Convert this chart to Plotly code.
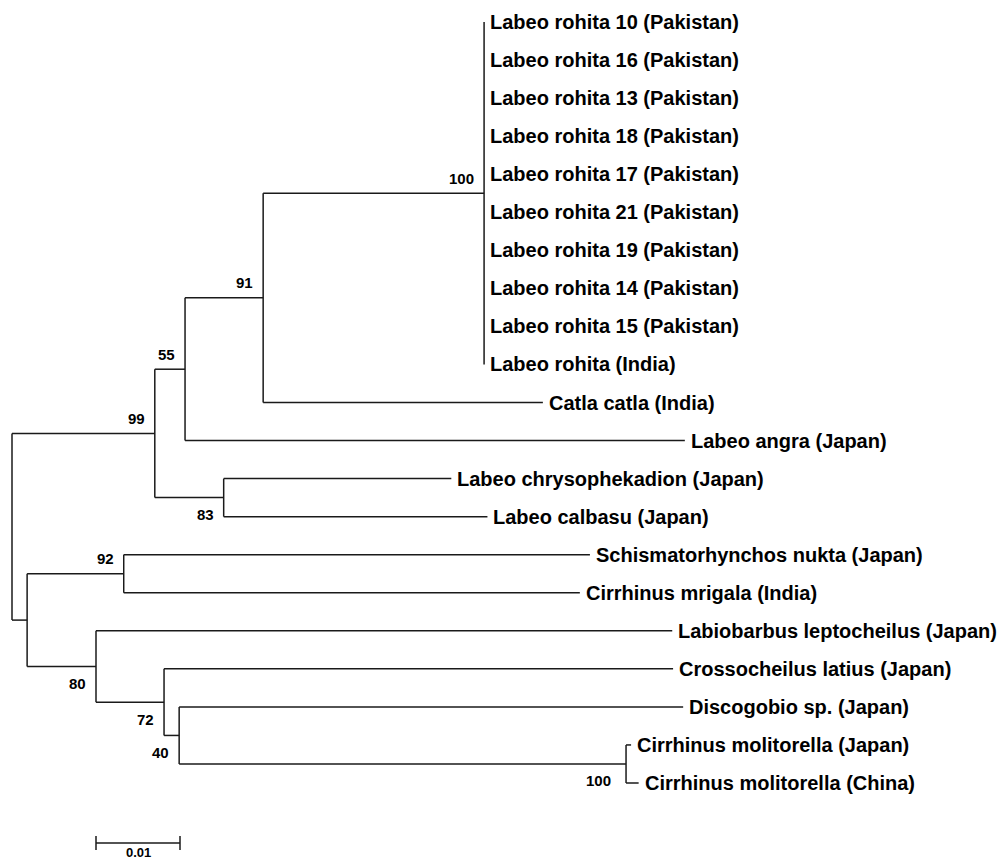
import plotly.graph_objects as go

# ---------------- data ----------------
leaf_names = [
    "Labeo rohita 10 (Pakistan)", "Labeo rohita 16 (Pakistan)", "Labeo rohita 13 (Pakistan)",
    "Labeo rohita 18 (Pakistan)", "Labeo rohita 17 (Pakistan)", "Labeo rohita 21 (Pakistan)",
    "Labeo rohita 19 (Pakistan)", "Labeo rohita 14 (Pakistan)", "Labeo rohita 15 (Pakistan)",
    "Labeo rohita (India)", "Catla catla (India)", "Labeo angra (Japan)",
    "Labeo chrysophekadion (Japan)", "Labeo calbasu (Japan)",
    "Schismatorhynchos nukta (Japan)", "Cirrhinus mrigala (India)",
    "Labiobarbus leptocheilus (Japan)", "Crossocheilus latius (Japan)",
    "Discogobio sp. (Japan)", "Cirrhinus molitorella (Japan)", "Cirrhinus molitorella (China)",
]
leaf_parents = ["n100a"] * 10 + ["n91", "n55", "n83", "n83", "n92", "n92",
                                 "n80", "n72", "n40", "n100b", "n100b"]
leaf_lengths = [0.0] * 10 + [0.0333, 0.0595, 0.0271, 0.0314, 0.0555, 0.0543,
                             0.0686, 0.0606, 0.0600, 0.0006, 0.0015]

node_names = ["root", "n99", "n55", "n91", "n100a", "n83",
              "nlow", "n92", "n80", "n72", "n40", "n100b"]
node_parents = [None, "root", "n99", "n55", "n91", "n99",
                "root", "nlow", "nlow", "n80", "n72", "n40"]
node_lengths = [0.0, 0.0170, 0.0036, 0.0093, 0.0263, 0.0082,
                0.0018, 0.0115, 0.0082, 0.0081, 0.0018, 0.0532]
node_support = [None, 99, 55, 91, 100, 83, None, 92, 80, 72, 40, 100]

scale_value = 0.01
scale_label = "0.01"

# ---------------- style ----------------
support_side = {"n99": "up", "n55": "up", "n91": "up", "n100a": "up", "n92": "up",
                "n83": "down", "n80": "down", "n72": "down", "n40": "down", "n100b": "down"}
LINE = dict(color="#1a1a1a", width=1.5)
FONT_FAM = "Liberation Sans, Arial, sans-serif"
PX_X = 8400.0   # px per unit distance
PX_Y = 38.05    # px per leaf
W, H = 1001, 861

# ---------------- layout computation ----------------
xpos = {}
for n, p, l in zip(node_names, node_parents, node_lengths):
    xpos[n] = 0.0 if p is None else xpos[p] + l

children = {n: [] for n in node_names}
for n, p in zip(node_names, node_parents):
    if p is not None:
        children[p].append(n)
leaf_x, leaf_y = [], []
for i, (p, l) in enumerate(zip(leaf_parents, leaf_lengths)):
    leaf_x.append(xpos[p] + l)
    leaf_y.append(float(i))
    children[p].append(("leaf", i))

ypos = {}


def get_y(item):
    if isinstance(item, tuple):
        return leaf_y[item[1]]
    if item in ypos:
        return ypos[item]
    ys_ = [get_y(c) for c in children[item]]
    ypos[item] = (min(ys_) + max(ys_)) / 2
    return ypos[item]


for n in node_names:
    get_y(n)

xs, ys = [], []
parent_of = dict(zip(node_names, node_parents))
for n in node_names:
    cy = [get_y(c) for c in children[n]]
    xs += [xpos[n], xpos[n], None]
    ys += [min(cy), max(cy), None]
    p = parent_of[n]
    if p is not None:
        xs += [xpos[p], xpos[n], None]
        ys += [ypos[n], ypos[n], None]
for i, p in enumerate(leaf_parents):
    if leaf_lengths[i] > 0:
        xs += [xpos[p], leaf_x[i], None]
        ys += [leaf_y[i], leaf_y[i], None]

fig = go.Figure()
fig.add_trace(go.Scatter(x=xs, y=ys, mode="lines", line=LINE,
                         hoverinfo="skip", showlegend=False))

# scale bar
sb_y = (843 - 22) / PX_Y
sb_x0 = 0.01
tick = 7 / PX_Y
fig.add_trace(go.Scatter(
    x=[sb_x0, sb_x0 + scale_value, None, sb_x0, sb_x0, None, sb_x0 + scale_value, sb_x0 + scale_value],
    y=[sb_y, sb_y, None, sb_y - tick, sb_y + tick, None, sb_y - tick, sb_y + tick],
    mode="lines", line=LINE, hoverinfo="skip", showlegend=False))

annotations = []
for i, name in enumerate(leaf_names):
    annotations.append(dict(x=leaf_x[i], y=leaf_y[i], text=name, showarrow=False,
                            xanchor="left", yanchor="middle", xshift=4,
                            font=dict(family=FONT_FAM, size=20, color="black", weight="bold")))
for n, s in zip(node_names, node_support):
    if s is None:
        continue
    up = support_side[n] == "up"
    annotations.append(dict(x=xpos[n], y=ypos[n], text=str(s), showarrow=False,
                            xanchor="right", yanchor="middle",
                            xshift=-8 if n != "n100b" else -13,
                            yshift=15 if up else -17,
                            font=dict(family=FONT_FAM, size=15, color="black", weight="bold")))
annotations.append(dict(x=sb_x0 + scale_value / 2, y=0, yref="paper", text=scale_label,
                        showarrow=False, xanchor="center", yanchor="bottom", yshift=-1,
                        font=dict(family=FONT_FAM, size=13, color="black", weight="bold")))

fig.update_layout(
    width=W, height=H, margin=dict(l=0, r=0, t=0, b=0),
    paper_bgcolor="white", plot_bgcolor="white",
    xaxis=dict(range=[-12 / PX_X, (W - 12) / PX_X], visible=False, fixedrange=True),
    yaxis=dict(range=[(H - 22) / PX_Y, -22 / PX_Y], visible=False, fixedrange=True),
    annotations=annotations,
)

fig.write_html("out.html")
